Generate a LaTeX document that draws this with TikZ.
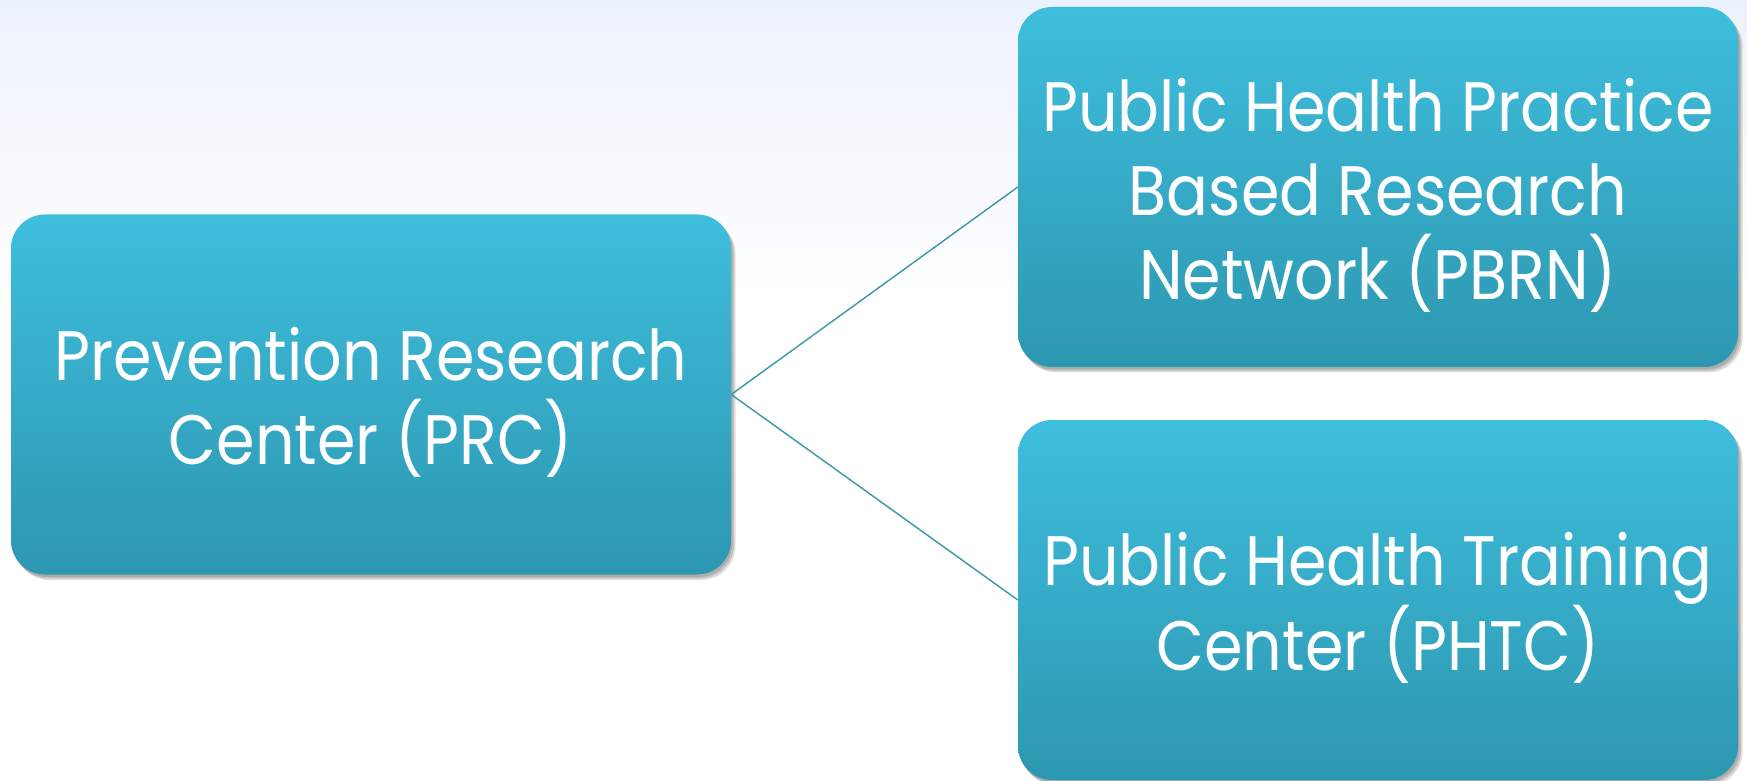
\documentclass[tikz,border=0pt]{standalone}
\usepackage{fontspec}
\setmainfont{Poppins}[FakeStretch=0.885]
\usetikzlibrary{shadows}
\definecolor{boxtop}{RGB}{62,190,221}
\definecolor{boxbot}{RGB}{45,151,176}
\definecolor{linkcol}{RGB}{58,150,170}
\definecolor{skytop}{RGB}{236,242,252}
\begin{document}
\begin{tikzpicture}[x=1pt,y=1pt,
  softshadow/.style={drop shadow={shadow xshift=#1, shadow yshift=-#1-1pt, opacity=0.12, fill=black}},
  unit/.style={rounded corners=34pt, top color=boxtop, bottom color=boxbot,
    draw=none, minimum width=720pt, minimum height=360pt, inner sep=0pt,
    softshadow=1.5pt, softshadow=3pt, softshadow=4.5pt},
  unittext/.style={text=white, align=center, font=\fontsize{70}{84}\selectfont,
    inner sep=0pt, yshift=-8pt},
  link/.style={draw=linkcol, line width=1.4pt}]
  % page and soft sky backdrop
  \useasboundingbox (0,0) rectangle (1747,780);
  \fill[white] (0,0) rectangle (1747,780);
  \shade[top color=skytop, bottom color=white] (0,470) rectangle (1747,780);
  % boxes, each with its caption centred inside
  \node[unit, label={[unittext]center:Prevention Research\\Center (PRC)}]
    (prc) at (371,385.5) {};
  \node[unit, label={[unittext]center:Public Health Practice\\Based Research\\Network (PBRN)}]
    (pbrn) at (1378,593) {};
  \node[unit, label={[unittext]center:Public Health Training\\Center (PHTC)}]
    (phtc) at (1378,180) {};
  % connectors
  \draw[link] (prc.east) -- (pbrn.west);
  \draw[link] (prc.east) -- (phtc.west);
\end{tikzpicture}
\end{document}
